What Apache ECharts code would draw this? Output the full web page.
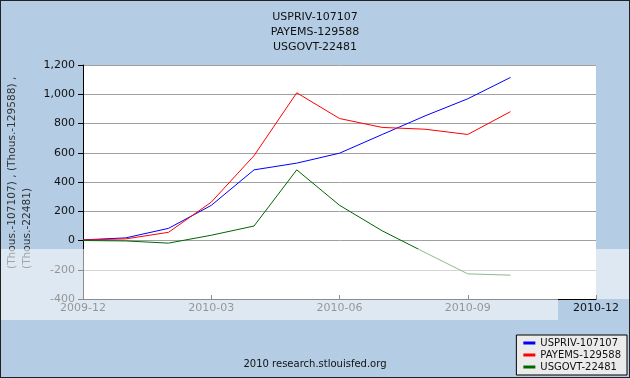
<!DOCTYPE html>
<html>
<head>
<meta charset="utf-8">
<script src="https://cdn.jsdelivr.net/npm/echarts@6/dist/echarts.min.js"></script>
<style>
  html, body { margin: 0; padding: 0; }
  #chart { width: 630px; height: 378px; box-sizing: border-box; border: 1px solid #222; }
</style>
</head>
<body>
<div id="chart"></div>
<script>
// months on the x axis (Dec 2009 .. Dec 2010)
var months = ['2009-12', '2010-01', '2010-02', '2010-03', '2010-04', '2010-05', '2010-06',
  '2010-07', '2010-08', '2010-09', '2010-10', '2010-11', '2010-12']
var tickLabels = ['2009-12', '2010-03', '2010-06', '2010-09', '2010-12']
var seriesNames = ['USPRIV-107107', 'PAYEMS-129588', 'USGOVT-22481']
var uspriv = [4, 18, 83, 240, 483, 529, 597, 725, 852, 969, 1115]
var payems = [4, 11, 56, 262, 580, 1010, 834, 773, 761, 725, 881]
var usgovt = [0, -3, -18, 36, 99, 483, 241, 66, -82, -228, -237]
var yTicks = [-400, -200, 0, 200, 400, 600, 800, 1000, 1200]

var myChart = echarts.init(document.getElementById('chart'))
var font = 'DejaVu Sans'

var option = {
  backgroundColor: '#b4cde4',
  animation: false,
  title: {
    text: seriesNames.join('\n'),
    left: 'center',
    top: 4,
    textStyle: {
      color: '#111',
      fontSize: 11,
      fontWeight: 'normal',
      fontFamily: font,
      lineHeight: 15
    }
  },
  legend: {
    data: seriesNames,
    orient: 'vertical',
    right: 2,
    bottom: 2,
    backgroundColor: '#ebebeb',
    borderColor: '#000',
    borderWidth: 1,
    borderRadius: 0,
    padding: [2, 6, 2, 7],
    itemGap: 0,
    itemWidth: 12,
    itemHeight: 3,
    icon: 'rect',
    textStyle: { color: '#111', fontSize: 10, fontFamily: font, lineHeight: 12 }
  },
  grid: {
    left: 82,
    right: 33,
    top: 64,
    bottom: 78,
    show: true,
    backgroundColor: '#fff',
    borderWidth: 0
  },
  xAxis: {
    type: 'category',
    data: months,
    boundaryGap: false,
    axisLine: { onZero: false, lineStyle: { color: '#000', width: 1 } },
    axisTick: {
      inside: true,
      length: 4,
      lineStyle: { color: '#000' },
      interval: function (i) { return i % 3 === 0 && i > 0 }
    },
    axisLabel: {
      color: '#111',
      fontSize: 11,
      fontFamily: font,
      margin: 4,
      interval: function (i, v) { return tickLabels.indexOf(v) >= 0 }
    },
    splitLine: { show: false }
  },
  yAxis: {
    type: 'value',
    min: yTicks[0],
    max: yTicks[yTicks.length - 1],
    interval: 200,
    axisLine: { show: true, lineStyle: { color: '#000' } },
    axisTick: { show: true, length: 5, lineStyle: { color: '#000' } },
    axisLabel: {
      color: '#111',
      fontSize: 11,
      fontFamily: font,
      margin: 8,
      formatter: function (v) { return v.toLocaleString('en-US') }
    },
    splitLine: { lineStyle: { color: '#a0a0a0', width: 1 } }
  },
  graphic: [
    {
      type: 'text',
      x: 4,
      y: 268,
      rotation: Math.PI / 2,
      style: {
        text: '(Thous.-107107) , (Thous.-129588) ,\n(Thous.-22481)',
        font: '10.6px DejaVu Sans',
        fill: '#333',
        textAlign: 'left',
        textVerticalAlign: 'top',
        lineHeight: 15
      }
    },
    {
      type: 'text',
      left: 'center',
      top: 358,
      style: {
        text: '2010 research.stlouisfed.org',
        font: '10px DejaVu Sans',
        fill: '#111'
      }
    },
    // light watermark band from the source image
    {
      type: 'rect',
      z: 100,
      shape: { x: 0, y: 248, width: 630, height: 50 },
      style: { fill: 'rgba(255,255,255,0.55)' }
    },
    {
      type: 'rect',
      z: 100,
      shape: { x: 0, y: 298, width: 557, height: 21 },
      style: { fill: 'rgba(255,255,255,0.55)' }
    }
  ],
  series: [
    {
      name: seriesNames[0],
      type: 'line',
      data: uspriv,
      showSymbol: false,
      lineStyle: { color: '#0000ff', width: 1 },
      itemStyle: { color: '#0000ff' }
    },
    {
      name: seriesNames[1],
      type: 'line',
      data: payems,
      showSymbol: false,
      lineStyle: { color: '#ff0000', width: 1 },
      itemStyle: { color: '#ff0000' }
    },
    {
      name: seriesNames[2],
      type: 'line',
      data: usgovt,
      showSymbol: false,
      lineStyle: { color: '#006600', width: 1 },
      itemStyle: { color: '#006600' }
    }
  ]
}
myChart.setOption(option)
</script>
</body>
</html>
